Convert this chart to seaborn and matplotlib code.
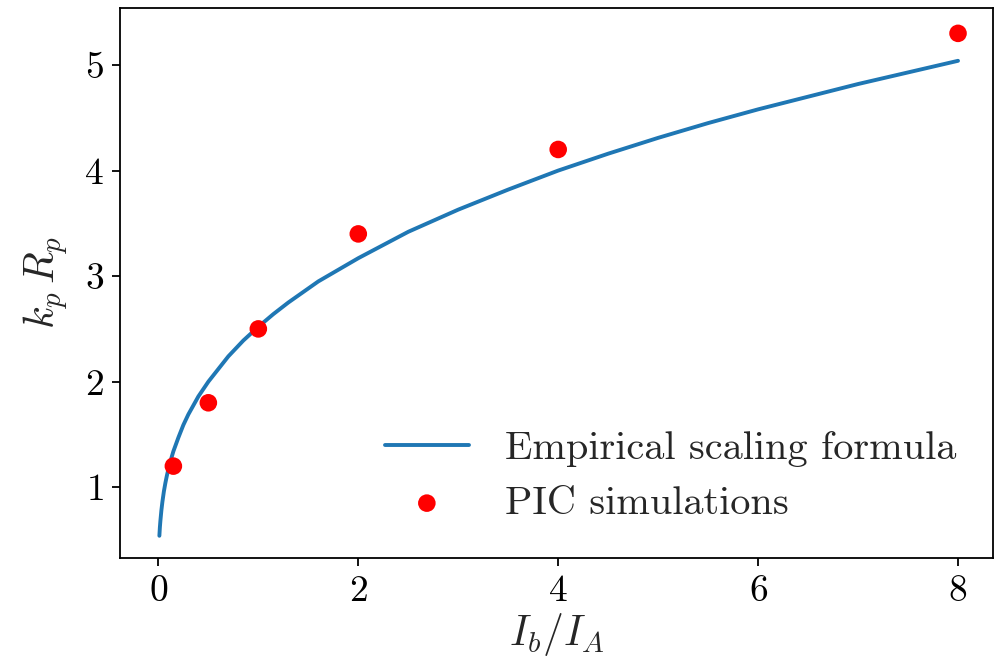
import matplotlib
matplotlib.use('Agg')
import matplotlib.pyplot as plt
import seaborn as sns
import pandas as pd

sns.set_style('ticks')
plt.rcParams['font.family'] = 'serif'
plt.rcParams['font.serif'] = ['cmr10', 'DejaVu Serif']
plt.rcParams['mathtext.fontset'] = 'cm'
plt.rcParams['axes.formatter.use_mathtext'] = True
plt.rcParams['axes.unicode_minus'] = False

# Empirical scaling curve
curve_x = [0.01, 0.015, 0.02, 0.03, 0.04, 0.055, 0.07, 0.085, 0.1, 0.125, 0.15, 0.2,
           0.25, 0.3, 0.4, 0.5, 0.6, 0.7, 0.85, 1.0, 1.15, 1.3, 1.6, 2.0, 2.5,
           3.0, 3.5, 4.0, 4.5, 5.0, 5.5, 6.0, 6.5, 7.0, 7.5, 8.0]
curve_y = [0.54, 0.62, 0.68, 0.78, 0.86, 0.96, 1.04, 1.11, 1.17, 1.26, 1.34, 1.47,
           1.59, 1.69, 1.86, 2.00, 2.12, 2.24, 2.39, 2.52, 2.64, 2.75, 2.95, 3.17, 3.42,
           3.63, 3.82, 4.00, 4.16, 4.31, 4.45, 4.58, 4.70, 4.82, 4.93, 5.04]

# PIC simulation points
pic_x = [0.15, 0.5, 1.0, 2.0, 4.0, 8.0]
pic_y = [1.2, 1.8, 2.5, 3.4, 4.2, 5.3]

curve = pd.DataFrame({'x': curve_x, 'y': curve_y})
pic = pd.DataFrame({'x': pic_x, 'y': pic_y})

fig, ax = plt.subplots(figsize=(9.95, 6.69), dpi=100)
fig.subplots_adjust(left=0.121, right=0.998, top=0.988, bottom=0.166)

sns.lineplot(data=curve, x='x', y='y', ax=ax, color='#1f77b4', linewidth=2.8,
             label='Empirical scaling formula')
sns.scatterplot(data=pic, x='x', y='y', ax=ax, color='red', s=160, edgecolor='none',
                label='PIC simulations', zorder=3)

for side in ['top', 'right', 'left', 'bottom']:
    ax.spines[side].set_visible(True)
    ax.spines[side].set_linewidth(1.3)
    ax.spines[side].set_color('black')

ax.set_xlim(-0.38, 8.35)
ax.set_ylim(0.33, 5.54)
ax.set_xticks([0, 2, 4, 6, 8])
ax.set_yticks([1, 2, 3, 4, 5])
ax.tick_params(labelsize=27, length=6, width=1.3, colors='black', pad=6)
ax.set_xlabel(r'$I_b/I_A$', fontsize=30, labelpad=2)
ax.set_ylabel(r'$k_p\,R_p$', fontsize=30, labelpad=10)

ax.legend(loc='lower right', frameon=False, fontsize=29, handlelength=2.1,
          borderaxespad=0.5, handletextpad=0.9, labelspacing=0.45)

fig.savefig('out.png', dpi=100)
